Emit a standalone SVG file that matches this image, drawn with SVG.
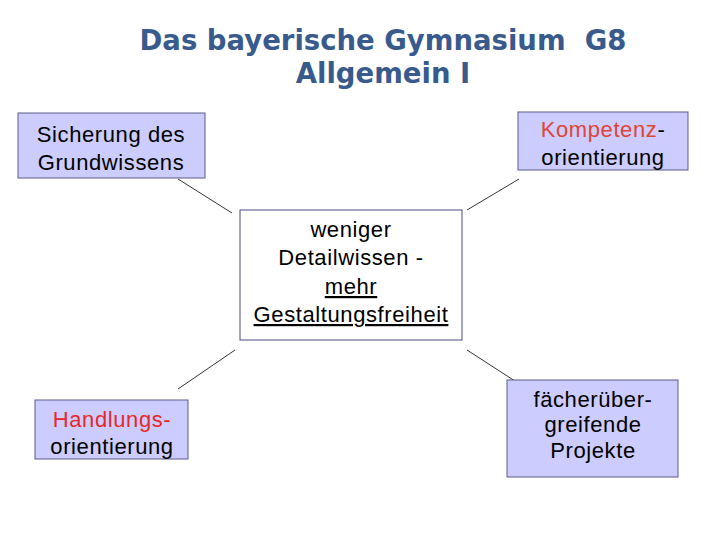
<svg xmlns="http://www.w3.org/2000/svg" width="720" height="540" viewBox="0 0 720 540">
<style>
.title{font-family:"DejaVu Sans",Verdana,sans-serif;font-weight:bold;font-size:27.5px;fill:#385A8C;text-anchor:middle}
.box{fill:#CCCCFF;stroke:#5A5A8C;stroke-width:1}
.cbox{fill:#FFFFFF;stroke:#4A4A80;stroke-width:1}
.t{font-family:"Liberation Sans",Arial,sans-serif;font-size:22px;fill:#000;text-anchor:middle;letter-spacing:0.6px}
.red{fill:#E82828}
.ored{fill:#E04434}
.u{text-decoration:underline}
.conn line{stroke:#000;stroke-width:0.8}
</style>
<rect width="720" height="540" fill="#FFFFFF"/>
<g id="title">
<text class="title" x="383" y="50" xml:space="preserve">Das bayerische Gymnasium  G8</text>
<text class="title" x="383" y="83">Allgemein I</text>
</g>
<g class="conn" id="connectors">
<line x1="178" y1="179" x2="232" y2="213"/>
<line x1="519" y1="179" x2="467" y2="210"/>
<line x1="235" y1="350" x2="178" y2="389"/>
<line x1="467" y1="350" x2="518" y2="383"/>
</g>
<g id="sicherung">
<rect class="box" x="18" y="113" width="187" height="65"/>
<text class="t" x="111" y="142">Sicherung des</text>
<text class="t" x="111" y="170">Grundwissens</text>
</g>
<g id="kompetenz">
<rect class="box" x="518" y="112" width="170" height="58"/>
<text class="t" x="603" y="137"><tspan class="ored">Kompetenz</tspan>-</text>
<text class="t" x="603" y="165">orientierung</text>
</g>
<g id="center">
<rect class="cbox" x="240" y="210" width="222" height="130"/>
<text class="t" x="351" y="237">weniger</text>
<text class="t" x="351" y="265">Detailwissen -</text>
<text class="t u" x="351" y="294">mehr</text>
<text class="t u" x="351" y="322">Gestaltungsfreiheit</text>
</g>
<g id="handlungs">
<rect class="box" x="35" y="400" width="153" height="59"/>
<text class="t red" x="112" y="427">Handlungs-</text>
<text class="t" x="112" y="454">orientierung</text>
</g>
<g id="faecher">
<rect class="box" x="507" y="380" width="171" height="97"/>
<text class="t" x="593" y="407">fächerüber-</text>
<text class="t" x="593" y="432">greifende</text>
<text class="t" x="593" y="458">Projekte</text>
</g>
</svg>
